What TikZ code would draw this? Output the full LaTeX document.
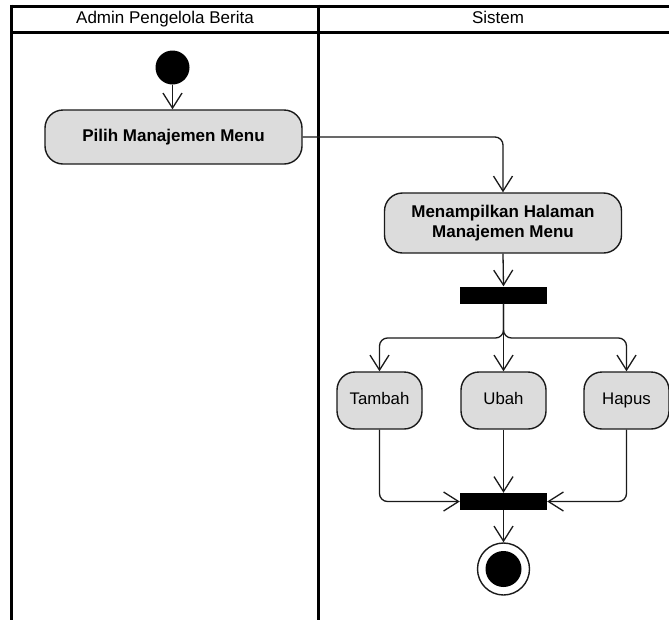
\documentclass[tikz,border=0pt]{standalone}
\usepackage{fontspec}
\setmainfont{Liberation Sans}
\usetikzlibrary{arrows.meta}
\definecolor{boxfill}{HTML}{DCDCDC}
\definecolor{ink}{HTML}{1A1A1A}
\begin{document}
\begin{tikzpicture}[x=1pt,y=-1pt,
  lane/.style={line width=3pt,draw=black},
  act/.style={draw=ink,line width=1.4pt,fill=boxfill,rounded corners=18pt,inner sep=0pt,align=center,
    font=\fontsize{17}{20}\selectfont\bfseries},
  smallact/.style={draw=ink,line width=1.4pt,fill=boxfill,rounded corners=18pt,inner sep=0pt,
    minimum width=85pt,minimum height=57pt,text height=12pt,text depth=3.5pt,
    font=\fontsize{16.8}{20}\selectfont},
  bar/.style={fill=black,draw=none,minimum width=87pt,minimum height=17pt,inner sep=0pt},
  flow/.style={draw=ink,line width=1.3pt,rounded corners=8pt,-{Straight Barb[length=15pt,width=19pt,line width=1.3pt]}},
  hdr/.style={font=\fontsize{17}{20}\selectfont,inner sep=0pt,text height=12pt,text depth=3.5pt}
]
\useasboundingbox (0,0) rectangle (669,619);
\fill[white] (0,0) rectangle (669,619);
% swimlanes
\draw[lane] (11,6) -- (672,6);
\draw[lane] (11,32) -- (672,32);
\draw[lane] (11,4.5) -- (11,622);
\draw[lane] (318,4.5) -- (318,622);
\node[hdr] (h1) at (165,19.5) {Admin Pengelola Berita};
\node[hdr] (h2) at (498,19.5) {Sistem};
% nodes
\node[circle,fill=black,minimum size=34pt,inner sep=0pt] (start) at (172.5,67.5) {};
\node[act,minimum width=257pt,minimum height=54pt,text height=12pt,text depth=3.5pt] (pilih) at (173.5,137) {Pilih Manajemen Menu};
\node[act,minimum width=237pt,minimum height=60pt] (tampil) at (503,223) {Menampilkan Halaman\\Manajemen Menu};
\node[bar] (fork) at (503.5,295) {};
\node[smallact] (tambah) at (379.5,400.5) {Tambah};
\node[smallact] (ubah) at (503.5,400.5) {Ubah};
\node[smallact] (hapus) at (626.5,400.5) {Hapus};
\node[bar] (join) at (503.5,501.5) {};
\node[circle,draw=ink,line width=1.4pt,fill=white,minimum size=52pt,inner sep=0pt] (final) at (503.5,569) {};
\node[circle,fill=black,minimum size=36pt,inner sep=0pt] (finalin) at (final.center) {};
\coordinate (br) at (503.5,338);
% connectors
\draw[flow] (start) -- (pilih.north -| start);
\draw[flow] (pilih.east) -| (tampil.north);
\draw[flow] (tampil.south) -- (fork.north);
\draw[flow] (fork.south) -- (br) -| (tambah.north);
\draw[flow] (fork.south) -- (br) -| (hapus.north);
\draw[flow] (fork.south) -- (ubah.north);
\draw[flow] (tambah.south) |- (join.west);
\draw[flow] (hapus.south) |- (join.east);
\draw[flow] (ubah.south) -- (join.north);
\draw[flow] (join.south) -- (final.north);
\end{tikzpicture}
\end{document}
